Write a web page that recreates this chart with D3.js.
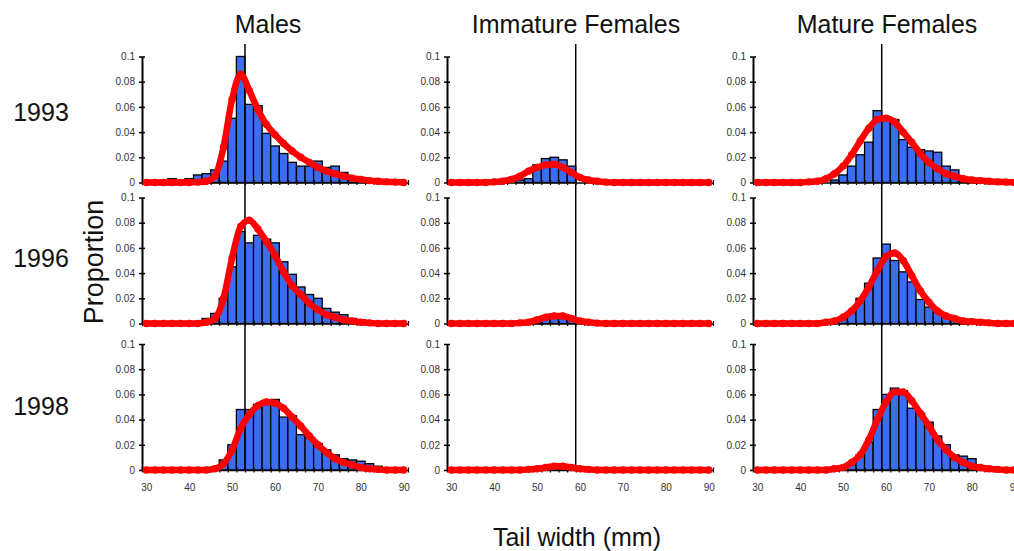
<!DOCTYPE html>
<html>
<head>
<meta charset="utf-8">
<script src="https://cdn.jsdelivr.net/npm/d3@7"></script>
<style>
  body { margin: 0; background: #fff; }
  svg { display: block; font-family: "Liberation Sans", Arial, sans-serif; }
</style>
</head>
<body>
<div id="chart"></div>
<script>
// groups (columns) and survey years (rows)
const groups = ['Males', 'Immature Females', 'Mature Females'];
const years = ['1993', '1996', '1998'];

// 2 mm tail-width bins, labelled by their centre
const bins = [30, 32, 34, 36, 38, 40, 42, 44, 46, 48, 50, 52, 54, 56, 58, 60,
  62, 64, 66, 68, 70, 72, 74, 76, 78, 80, 82, 84, 86, 88, 90];
const xTicks = [30, 40, 50, 60, 70, 80, 90];
const yTicks = [0, 0.02, 0.04, 0.06, 0.08, 0.1];
// vertical reference line for each group (mm)
const refLines = [53, 59, 59];

// observed proportions per bin
const males1993Bars = [0, 0, 0, 0.003, 0, 0.003, 0.006, 0.007, 0.01, 0.017, 0.051, 0.1, 0.062, 0.061, 0.039, 0.029,
  0.023, 0.016, 0.013, 0.013, 0.017, 0.012, 0.013, 0.008, 0.004, 0.002, 0.001, 0, 0, 0, 0];
const males1996Bars = [0, 0, 0, 0, 0, 0, 0, 0.004, 0.008, 0.02, 0.045, 0.073, 0.064, 0.07, 0.067, 0.064,
  0.049, 0.039, 0.029, 0.023, 0.02, 0.012, 0.009, 0.007, 0.004, 0.003, 0.001, 0, 0, 0, 0];
const males1998Bars = [0, 0, 0, 0, 0, 0, 0, 0, 0.002, 0.008, 0.02, 0.048, 0.048, 0.052, 0.055, 0.056,
  0.042, 0.043, 0.028, 0.026, 0.021, 0.016, 0.012, 0.009, 0.008, 0.007, 0.005, 0.003, 0, 0, 0];
const immature1993Bars = [0, 0, 0, 0, 0, 0, 0, 0, 0.002, 0.003, 0.014, 0.019, 0.02, 0.018, 0.013, 0,
  0, 0, 0, 0, 0, 0, 0, 0, 0, 0, 0, 0, 0, 0, 0];
const immature1996Bars = [0, 0, 0, 0, 0, 0, 0, 0, 0, 0, 0.002, 0.004, 0.006, 0.005, 0.003, 0,
  0, 0, 0, 0, 0, 0, 0, 0, 0, 0, 0, 0, 0, 0, 0];
const immature1998Bars = [0, 0, 0, 0, 0, 0, 0, 0, 0, 0, 0, 0.001, 0.002, 0.002, 0.001, 0,
  0, 0, 0, 0, 0, 0, 0, 0, 0, 0, 0, 0, 0, 0, 0];
const mature1993Bars = [0, 0, 0, 0, 0, 0, 0, 0, 0, 0.002, 0.006, 0.013, 0.022, 0.032, 0.057, 0.05,
  0.05, 0.034, 0.028, 0.026, 0.025, 0.024, 0.013, 0.01, 0.003, 0.001, 0, 0, 0, 0, 0];
const mature1996Bars = [0, 0, 0, 0, 0, 0, 0, 0, 0, 0, 0.005, 0.01, 0.02, 0.032, 0.052, 0.063,
  0.05, 0.041, 0.033, 0.019, 0.013, 0.009, 0.006, 0.004, 0.002, 0, 0, 0, 0, 0, 0];
const mature1998Bars = [0, 0, 0, 0, 0, 0, 0, 0, 0, 0, 0, 0.006, 0.012, 0.022, 0.048, 0.06,
  0.065, 0.063, 0.049, 0.045, 0.038, 0.027, 0.02, 0.012, 0.011, 0.009, 0.003, 0.001, 0, 0, 0];

// fitted curves, read at the bin centres
const males1993Fit = [0, 0, 0, 0, 0, 0, 0.0003, 0.001, 0.005, 0.028, 0.066, 0.086, 0.073, 0.058, 0.046, 0.038,
  0.031, 0.025, 0.02, 0.016, 0.012, 0.009, 0.007, 0.005, 0.0035, 0.0025, 0.0015, 0.001, 0.0005, 0.0003, 0];
const males1996Fit = [0, 0, 0, 0, 0, 0, 0, 0.001, 0.004, 0.02, 0.052, 0.077, 0.082, 0.075, 0.065, 0.054,
  0.041, 0.03, 0.023, 0.016, 0.011, 0.007, 0.005, 0.003, 0.002, 0.001, 0.0005, 0, 0, 0, 0];
const males1998Fit = [0, 0, 0, 0, 0, 0, 0, 0, 0.001, 0.005, 0.016, 0.033, 0.044, 0.051, 0.054, 0.053,
  0.049, 0.042, 0.035, 0.027, 0.02, 0.014, 0.009, 0.006, 0.004, 0.002, 0.001, 0.0005, 0, 0, 0];
const immature1993Fit = [0, 0, 0, 0, 0, 0.0005, 0.001, 0.0025, 0.005, 0.009, 0.012, 0.014, 0.0145, 0.012, 0.008, 0.004,
  0.002, 0.001, 0.0003, 0, 0, 0, 0, 0, 0, 0, 0, 0, 0, 0, 0];
const immature1996Fit = [0, 0, 0, 0, 0, 0, 0, 0, 0.0005, 0.001, 0.003, 0.005, 0.006, 0.006, 0.004, 0.002,
  0.001, 0.0003, 0, 0, 0, 0, 0, 0, 0, 0, 0, 0, 0, 0, 0];
const immature1998Fit = [0, 0, 0, 0, 0, 0, 0, 0, 0, 0.0005, 0.001, 0.002, 0.003, 0.003, 0.002, 0.001,
  0.0005, 0, 0, 0, 0, 0, 0, 0, 0, 0, 0, 0, 0, 0, 0];
const mature1993Fit = [0, 0, 0, 0, 0, 0, 0.0005, 0.001, 0.003, 0.007, 0.013, 0.022, 0.033, 0.043, 0.05, 0.051,
  0.048, 0.04, 0.032, 0.023, 0.016, 0.011, 0.007, 0.005, 0.003, 0.002, 0.0015, 0.001, 0.0005, 0.0003, 0];
const mature1996Fit = [0, 0, 0, 0, 0, 0, 0, 0, 0.001, 0.002, 0.005, 0.01, 0.018, 0.029, 0.042, 0.053,
  0.056, 0.05, 0.038, 0.026, 0.017, 0.01, 0.006, 0.004, 0.002, 0.0015, 0.001, 0.0005, 0, 0, 0];
const mature1998Fit = [0, 0, 0, 0, 0, 0, 0, 0, 0, 0.001, 0.002, 0.006, 0.012, 0.024, 0.04, 0.054,
  0.062, 0.062, 0.055, 0.045, 0.035, 0.024, 0.016, 0.01, 0.006, 0.003, 0.002, 0.001, 0.0005, 0, 0];

const barGrid = [
  [males1993Bars, immature1993Bars, mature1993Bars],
  [males1996Bars, immature1996Bars, mature1996Bars],
  [males1998Bars, immature1998Bars, mature1998Bars]
];
const fitGrid = [
  [males1993Fit, immature1993Fit, mature1993Fit],
  [males1996Fit, immature1996Fit, mature1996Fit],
  [males1998Fit, immature1998Fit, mature1998Fit]
];

const W = 1014, H = 551;
const colLeft = [142, 447, 753];
const panelW = 266;
const rowTop = [56.5, 197.5, 344];
const panelH = 126;

const svg = d3.select('#chart').append('svg')
  .attr('width', W)
  .attr('height', H);

// bin edges for the x-axis tick marks
const edges = bins.map(b => b - 1).concat([bins[bins.length - 1] + 1]);

const xs = colLeft.map(l => d3.scaleLinear().domain([29, 91]).range([l, l + panelW]));
const ys = rowTop.map(t => d3.scaleLinear().domain([0, 0.1]).range([t + panelH, t]));

const panelsLayer = svg.append('g');
const lineLayer = svg.append('g');
const curveLayer = svg.append('g');

years.forEach((yr, r) => {
  const y = ys[r];
  groups.forEach((grp, c) => {
    const x = xs[c];
    const g = panelsLayer.append('g');

    // histogram
    g.selectAll('rect')
      .data(bins.map((b, i) => ({ b, v: barGrid[r][c][i] })).filter(d => d.v > 0))
      .join('rect')
      .attr('x', d => x(d.b - 1))
      .attr('width', d => x(d.b + 1) - x(d.b - 1))
      .attr('y', d => y(d.v))
      .attr('height', d => y(0) - y(d.v))
      .attr('fill', '#3a6df0')
      .attr('stroke', '#000')
      .attr('stroke-width', 1.3);

    // y axis
    const ya = g.append('g')
      .attr('transform', `translate(${x(29)},0)`)
      .call(d3.axisLeft(y).tickValues(yTicks).tickSizeInner(3).tickSizeOuter(0).tickPadding(4)
        .tickFormat(d => d === 0 ? '0' : d3.format('~g')(d)));
    ya.select('.domain').attr('stroke-width', 2);
    ya.selectAll('.tick line').attr('x1', 3).attr('stroke-width', 1.5);
    ya.selectAll('.tick text').attr('font-size', 10).attr('fill', '#333').attr('font-family', null);

    // x axis
    const xa = g.append('g')
      .attr('transform', `translate(0,${y(0)})`)
      .call(d3.axisBottom(x).tickValues(edges).tickSizeInner(2.5).tickSizeOuter(0).tickFormat(''));
    xa.select('.domain').attr('stroke-width', 1.5);
    xa.selectAll('.tick line').attr('y1', -2.5).attr('stroke-width', 1.2);

    if (r === years.length - 1) {
      const xl = g.append('g')
        .attr('transform', `translate(0,${y(0)})`)
        .call(d3.axisBottom(x).tickValues(xTicks).tickSize(0).tickPadding(14));
      xl.select('.domain').remove();
      xl.selectAll('.tick text').attr('font-size', 10).attr('fill', '#333').attr('font-family', null);
    }

    // fitted curve
    const pts = bins.map((b, i) => [b, fitGrid[r][c][i]]);
    curveLayer.append('path')
      .datum(pts)
      .attr('fill', 'none')
      .attr('stroke', '#ff0000')
      .attr('stroke-width', 6.5)
      .attr('stroke-linejoin', 'round')
      .attr('stroke-linecap', 'round')
      .attr('d', d3.line().x(d => x(d[0])).y(d => y(d[1])).curve(d3.curveMonotoneX));
    curveLayer.append('g').selectAll('circle')
      .data(pts)
      .join('circle')
      .attr('cx', d => x(d[0]))
      .attr('cy', d => y(d[1]))
      .attr('r', 3.7)
      .attr('fill', '#ff0000');
  });
});

// reference lines running through all three rows
refLines.forEach((m, c) => {
  lineLayer.append('line')
    .attr('x1', xs[c](m)).attr('x2', xs[c](m))
    .attr('y1', 44).attr('y2', ys[2](0))
    .attr('stroke', '#000')
    .attr('stroke-width', 1.5);
});

// column titles
const titleX = [268, 576, 887];
svg.selectAll('.coltitle')
  .data(groups)
  .join('text')
  .attr('class', 'coltitle')
  .attr('x', (d, i) => titleX[i])
  .attr('y', 33)
  .attr('text-anchor', 'middle')
  .attr('font-size', 25)
  .attr('fill', '#111')
  .text(d => d);

// row labels
const rowLabelY = [112, 258, 406];
svg.selectAll('.rowlabel')
  .data(years)
  .join('text')
  .attr('class', 'rowlabel')
  .attr('x', 41)
  .attr('y', (d, i) => rowLabelY[i])
  .attr('dy', '0.35em')
  .attr('text-anchor', 'middle')
  .attr('font-size', 25)
  .attr('fill', '#111')
  .text(d => d);

svg.append('text')
  .attr('transform', 'translate(94,262) rotate(-90)')
  .attr('dy', '0.35em')
  .attr('text-anchor', 'middle')
  .attr('font-size', 27)
  .attr('fill', '#111')
  .text('Proportion');

svg.append('text')
  .attr('x', 577)
  .attr('y', 546)
  .attr('text-anchor', 'middle')
  .attr('font-size', 25)
  .attr('fill', '#111')
  .text('Tail width (mm)');
</script>
</body>
</html>
